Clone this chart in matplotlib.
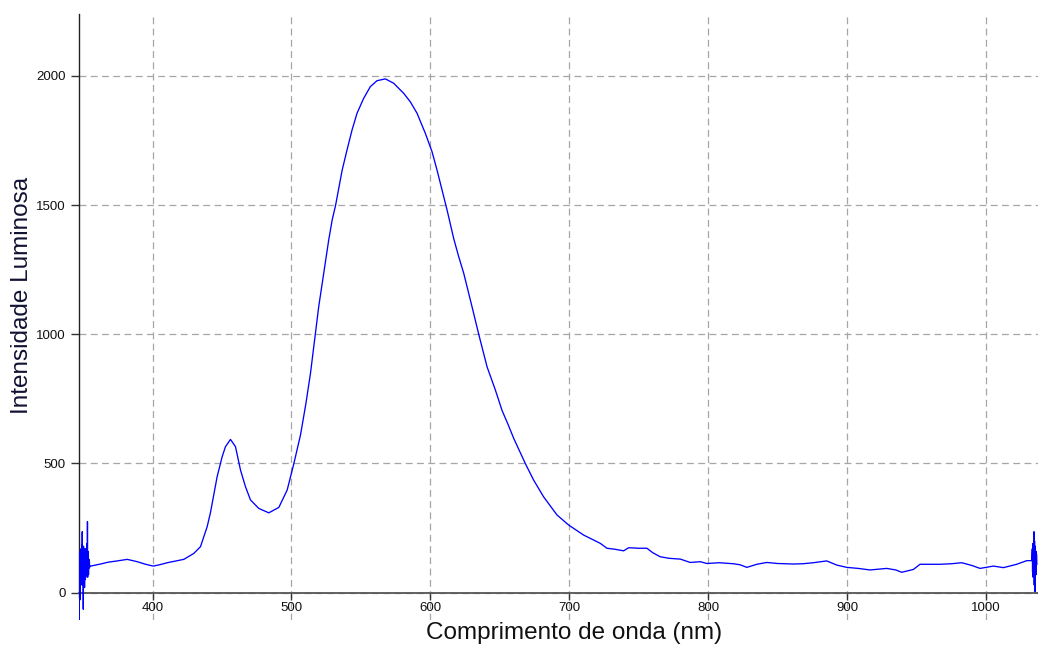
import matplotlib
matplotlib.use("Agg")
import matplotlib.pyplot as plt
import numpy as np

# ---- data ----
noise_left_nm = [347.0, 347.15, 347.3, 347.45, 347.6, 347.75, 347.9, 348.05, 348.2, 348.35,
                 348.5, 348.65, 348.8, 348.95, 349.1, 349.25, 349.4, 349.55, 349.7, 349.85,
                 350.0, 350.15, 350.3, 350.45, 350.6, 350.75, 350.9, 351.05, 351.2, 351.35,
                 351.5, 351.65, 351.8, 351.95, 352.1, 352.25, 352.4, 352.55, 352.7, 352.85,
                 353.0, 353.15, 353.3, 353.45, 353.6, 353.75, 353.9, 354.1, 354.3, 354.5,
                 354.7, 355.0]
noise_left_val = [60, -106, 150, 20, 130, -28, 160, 40, 110, 55,
                  170, 30, 140, 60, 185, 45, 236, 30, 150, 70,
                  120, -64, 180, 60, 160, 40, 140, 20, 170, 50,
                  150, 80, 130, 60, 170, 80, 120, 160, 70, 190,
                  90, 275, 60, 160, 90, 150, 70, 130, 95, 125,
                  100, 100]

main_nm = [355.4, 362.6, 368.0, 374.6, 381.8, 389.0, 395.0, 400.5, 405.0, 410.6,
           416.0, 422.5, 429.7, 434.5, 436.9, 439.3, 441.7, 446.5, 450.1, 452.5,
           456.1, 459.7, 463.3, 466.9, 470.5, 476.5, 483.7, 490.9, 496.9, 501.7,
           506.5, 510.4, 513.7, 517.2, 519.6, 523.2, 526.8, 529.3, 531.7, 536.5,
           540.0, 543.6, 547.2, 552.0, 556.8, 561.6, 567.6, 573.6, 580.8, 585.6,
           590.4, 596.4, 601.2, 604.8, 609.6, 612.0, 616.8, 620.4, 624.0, 630.0,
           634.8, 640.8, 646.8, 651.6, 656.0, 660.0, 668.5, 674.3, 681.5, 691.1,
           699.5, 710.3, 722.3, 727.1, 733.0, 739.1, 742.7, 750.0, 755.9, 760.0,
           765.5, 772.0, 779.9, 787.1, 794.2, 799.1, 808.0, 818.2, 823.0, 827.8,
           835.0, 842.2, 850.0, 861.3, 868.0, 875.7, 885.3, 892.5, 899.7, 908.0,
           916.5, 928.5, 935.0, 939.3, 947.7, 952.5, 966.9, 975.0, 982.5, 990.0,
           995.7, 1005.3, 1012.5, 1022.1, 1029.3, 1032.9]
main_val = [103, 111, 118, 123, 129, 120, 110, 103, 108, 116,
            122, 129, 152, 178, 217, 255, 310, 449, 526, 565,
            593, 565, 475, 410, 359, 326, 309, 330, 397, 499,
            610, 732, 849, 1000, 1106, 1236, 1364, 1442, 1497, 1635,
            1713, 1790, 1855, 1913, 1958, 1981, 1988, 1971, 1932, 1899,
            1855, 1777, 1706, 1635, 1532, 1481, 1370, 1300, 1236, 1106,
            1000, 874, 784, 705, 650, 597, 498, 436, 371, 301,
            262, 223, 191, 172, 168, 162, 174, 172, 172, 155,
            139, 133, 130, 117, 120, 113, 116, 112, 108, 98,
            110, 117, 113, 111, 112, 116, 123, 107, 98, 94,
            88, 94, 88, 79, 90, 110, 110, 112, 116, 105,
            94, 103, 97, 110, 124, 124]

noise_right_nm = [1033.3, 1033.5, 1033.7, 1033.9, 1034.1, 1034.3, 1034.5, 1034.7,
                  1034.9, 1035.1, 1035.3, 1035.5, 1035.7, 1035.9, 1036.1, 1036.3,
                  1036.6]
noise_right_val = [170, 80, 190, 60, 180, 90, 236, 30, 200, 70, 4, 180, 90, 160,
                   70, 150, 110]

x_ticks = [400, 500, 600, 700, 800, 900, 1000]
y_ticks = [0, 500, 1000, 1500, 2000]
x_label = "Comprimento de onda (nm)"
y_label = "Intensidade Luminosa"

# ---- figure ----
plt.rcParams['font.family'] = ['Liberation Sans', 'DejaVu Sans']
W, H = 1038, 648
fig = plt.figure(figsize=(W / 100, H / 100), dpi=100)
ax = fig.add_axes([78.5 / W, 1 - 620 / H, (W - 78.5) / W, (620 - 14) / H])

x = np.concatenate([noise_left_nm, main_nm, noise_right_nm])
y = np.concatenate([noise_left_val, main_val, noise_right_val])
ax.plot(x, y, color='#0000ff', lw=0.95, zorder=3)

ax.set_xlim(346.7, 1037.4)
ax.set_ylim(-105.6, 2239)

for s in ('top', 'right'):
    ax.spines[s].set_visible(False)
ax.spines['bottom'].set_position(('data', 0))
ax.spines['bottom'].set_color('#555555')
ax.spines['bottom'].set_linewidth(1.3)
ax.spines['left'].set_color('#222222')
ax.spines['left'].set_linewidth(1.0)
ax.spines['left'].set_bounds(-18, 2239)

ax.set_xticks(x_ticks)
ax.set_yticks(y_ticks)
ax.tick_params(axis='both', direction='out', labelsize=9.5, colors='#333333',
               labelcolor='#111111', width=1.0)
ax.tick_params(axis='x', length=5, pad=2)
ax.tick_params(axis='y', length=6, pad=3)

ax.grid(True, color='#a6a6a6', linestyle=(0, (5.5, 3.5)), linewidth=0.9, zorder=1)
ax.set_axisbelow(True)

fig.text(574.5 / W, 1 - 633 / H, x_label, ha='center', va='center',
         fontsize=17.5, color='#111111')
fig.text(22 / W, 1 - 295 / H, y_label, ha='center', va='center',
         rotation=90, fontsize=17.5, color='#111133')

fig.savefig('out.png', dpi=100)
